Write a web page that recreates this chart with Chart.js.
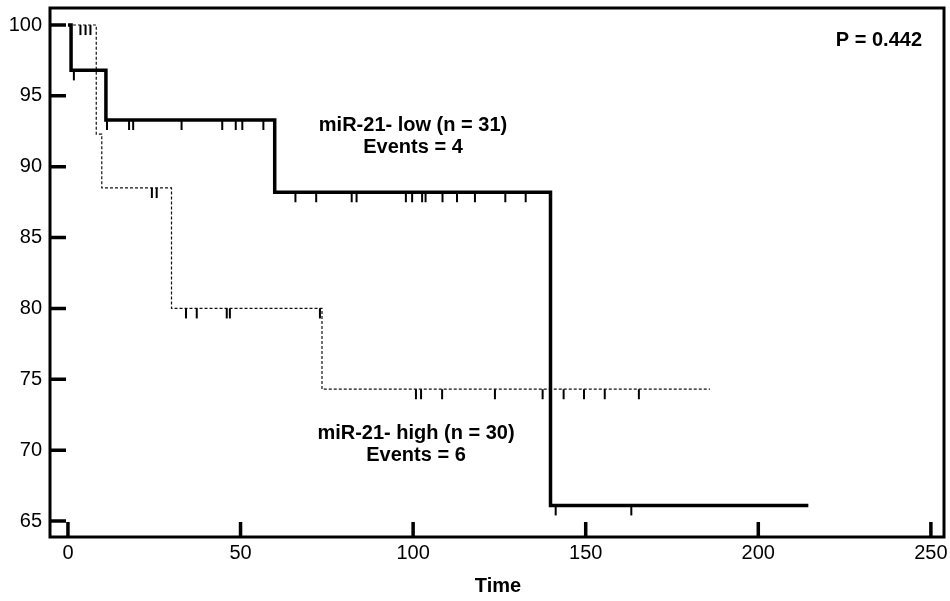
<!DOCTYPE html>
<html>
<head>
<meta charset="utf-8">
<script src="https://cdn.jsdelivr.net/npm/chart.js@4.4.1/dist/chart.umd.min.js"></script>
<style>
html,body{margin:0;padding:0;background:#fff;}
#wrap{width:950px;height:601px;}
</style>
</head>
<body>
<div id="wrap"><canvas id="chart" width="950" height="601"></canvas></div>
<script>
const X_TICKS = [0, 50, 100, 150, 200, 250];
const Y_TICKS = [65, 70, 75, 80, 85, 90, 95, 100];

// miR-21 low (n = 31): event times, survival after each step (%), censored times
const LOW_TIMES = [0, 0.9, 11, 59.9, 139.8, 214.5];
const LOW_SURV = [100, 96.8, 93.3, 88.2, 66.1, 66.1];
const LOW_CENSOR = [1.7, 11.3, 17.7, 18.9, 32.9, 44.7, 48.6, 50.5, 56.6,
  65.9, 71.9, 82.2, 83.6, 97.9, 99.7, 102.6, 103.6, 108.5, 112.7, 117.9, 126.7, 132.6,
  141.3, 163.2];

// miR-21 high (n = 30)
const HIGH_TIMES = [0, 8.2, 9.8, 30, 73.6, 186];
const HIGH_SURV = [100, 92.3, 88.5, 80.0, 74.3, 74.3];
const HIGH_CENSOR = [3.6, 5.1, 6.5, 24.3, 25.7, 34.2, 37.3, 46.0, 46.9, 73.0,
  100.8, 102.3, 108.4, 123.7, 137.5, 143.6, 149.5, 155.5, 165.4];

const FONT = '"Liberation Sans", Arial, sans-serif';

function survAt(times, surv, t){
  let v = surv[0];
  for(let i=0;i<times.length;i++){ if(times[i] <= t) v = surv[i]; }
  return v;
}

// censor mark: short vertical tick hanging below the point
function tickMark(w, len, color){
  const c = document.createElement('canvas');
  c.width = 4; c.height = len*2 + 2;
  const g = c.getContext('2d');
  g.strokeStyle = color; g.lineWidth = w;
  g.beginPath(); g.moveTo(2, len+1); g.lineTo(2, 2*len+1); g.stroke();
  return c;
}

const frame = {
  id: 'frame',
  afterDraw(chart){
    const {ctx, chartArea: a, scales} = chart;
    ctx.save();
    ctx.strokeStyle = '#000';
    ctx.lineWidth = 3;
    ctx.strokeRect(a.left, a.top, a.right - a.left, a.bottom - a.top);
    ctx.lineWidth = 3.5;
    ctx.beginPath();
    Y_TICKS.forEach(v=>{
      const y = scales.y.getPixelForValue(v);
      ctx.moveTo(a.left, y); ctx.lineTo(a.left + 16, y);
    });
    X_TICKS.forEach(v=>{
      const x = scales.x.getPixelForValue(v);
      ctx.moveTo(x, a.bottom); ctx.lineTo(x, a.bottom - 15);
    });
    ctx.stroke();

    ctx.fillStyle = '#000';
    ctx.textAlign = 'center';
    ctx.textBaseline = 'middle';
    ctx.font = 'bold 20px ' + FONT;
    ctx.fillText('miR-21- low (n = 31)', 413, 125);
    ctx.fillText('Events = 4', 413, 147);
    ctx.fillText('miR-21- high (n = 30)', 416, 433);
    ctx.fillText('Events = 6', 416, 455);
    ctx.fillText('Time', 498, 586);
    ctx.textAlign = 'right';
    ctx.fillText('P = 0.442', 922, 40);
    ctx.restore();
  }
};

new Chart(document.getElementById('chart'), {
  type: 'line',
  data: {
    datasets: [
      {
        label: 'miR-21- high',
        data: HIGH_TIMES.map((t,i)=>({x:t, y:HIGH_SURV[i]})),
        borderColor: '#111', borderWidth: 1.2, borderDash: [3,2],
        stepped: 'before', pointRadius: 0, fill: false, order: 3
      },
      {
        label: 'high censored',
        data: HIGH_CENSOR.map(t=>({x:t, y:survAt(HIGH_TIMES, HIGH_SURV, t)})),
        showLine: false, pointStyle: tickMark(2, 10, '#000'), pointRadius: 5, order: 2
      },
      {
        label: 'miR-21- low',
        data: LOW_TIMES.map((t,i)=>({x:t, y:LOW_SURV[i]})),
        borderColor: '#000', borderWidth: 3.5,
        stepped: 'before', pointRadius: 0, fill: false, order: 1
      },
      {
        label: 'low censored',
        data: LOW_CENSOR.map(t=>({x:t, y:survAt(LOW_TIMES, LOW_SURV, t)})),
        showLine: false, pointStyle: tickMark(2, 10, '#000'), pointRadius: 5, order: 0
      }
    ]
  },
  options: {
    responsive: false,
    devicePixelRatio: 1,
    animation: false,
    layout: { padding: { top: 8, right: 4, left: 0, bottom: 0 } },
    plugins: { legend: { display: false }, tooltip: { enabled: false } },
    scales: {
      x: {
        type: 'linear', min: -5.2, max: 253.8,
        grid: { display: false, drawTicks: false },
        border: { display: false },
        afterBuildTicks: s => { s.ticks = X_TICKS.map(v=>({value:v})); },
        afterFit: s => { s.height = 64; s.paddingLeft = 0; s.paddingRight = 0; },
        ticks: { color: '#000', font: { family: FONT, size: 20 }, padding: 4, maxRotation: 0, autoSkip: false }
      },
      y: {
        type: 'linear', min: 63.87, max: 101.2,
        grid: { display: false, drawTicks: false },
        border: { display: false },
        afterBuildTicks: s => { s.ticks = Y_TICKS.map(v=>({value:v})); },
        afterFit: s => { s.width = 50; s.paddingTop = 0; s.paddingBottom = 0; },
        ticks: { color: '#000', font: { family: FONT, size: 20 }, padding: 8 }
      }
    }
  },
  plugins: [frame]
});
</script>
</body>
</html>
